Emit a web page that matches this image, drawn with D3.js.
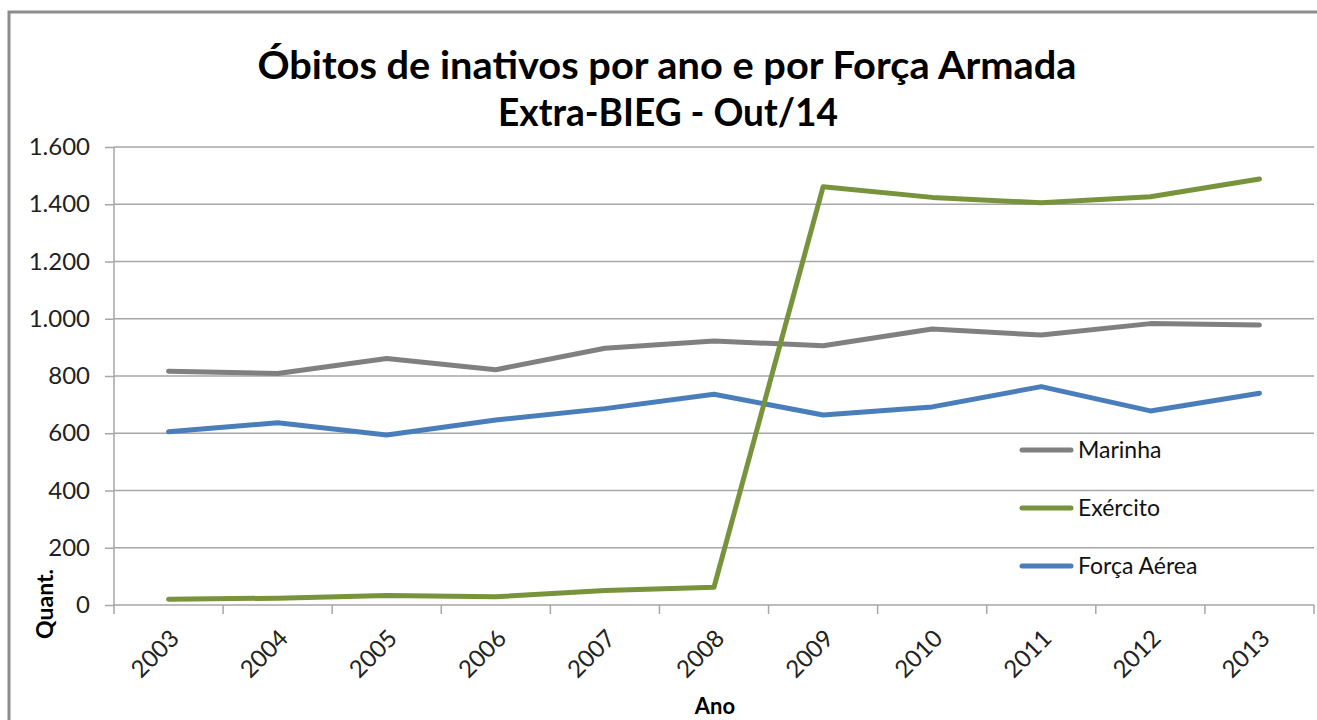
<!DOCTYPE html>
<html>
<head>
<meta charset="utf-8">
<script src="https://cdn.jsdelivr.net/npm/d3@7"></script>
<style>
  html, body { margin: 0; padding: 0; background: #fff; }
  svg { display: block; font-family: Lato, "Open Sans", sans-serif; }
</style>
</head>
<body>
<svg id="chart" width="1317" height="720"></svg>
<script>
const years = ["2003","2004","2005","2006","2007","2008","2009","2010","2011","2012","2013"];
const marinha = [817, 809, 861, 822, 897, 922, 906, 964, 943, 983, 978];
const exercito = [20, 24, 33, 29, 51, 62, 1461, 1424, 1405, 1426, 1488];
const forcaAerea = [605, 637, 594, 646, 686, 736, 664, 692, 763, 678, 740];
const seriesNames = ["Marinha", "Exército", "Força Aérea"];
const seriesColors = ["#808080", "#77933C", "#4A7EBB"];
const yTicks = [0, 200, 400, 600, 800, 1000, 1200, 1400, 1600];
const titleLines = ["Óbitos de inativos por ano e por Força Armada", "Extra-BIEG - Out/14"];
const yAxisTitle = "Quant.";
const xAxisTitle = "Ano";

(function () {
const series = [marinha, exercito, forcaAerea].map((v, i) => ({ name: seriesNames[i], color: seriesColors[i], values: v }));

const svg = d3.select("#chart");
const pLeft = 114, pRight = 1314, pTop = 147, pBottom = 605;

// outer frame
svg.append("rect").attr("x", 9).attr("y", 12).attr("width", 1330).attr("height", 730)
  .attr("fill", "none").attr("stroke", "#8c8c8c").attr("stroke-width", 3);

const x = d3.scaleBand().domain(years).range([pLeft, pRight]).padding(0);
const y = d3.scaleLinear().domain([0, 1600]).range([pBottom, pTop]);

// gridlines
svg.append("g").selectAll("line").data(yTicks.filter(t => t > 0)).join("line")
  .attr("x1", pLeft).attr("x2", pRight)
  .attr("y1", d => y(d)).attr("y2", d => y(d))
  .attr("stroke", "#a6a6a6").attr("stroke-width", 1.5);

// y axis
const fmt = d => d3.format(",")(d).replace(/,/g, ".");
const yAxis = svg.append("g").attr("transform", `translate(${pLeft},0)`)
  .call(d3.axisLeft(y).tickValues(yTicks).tickSize(9).tickPadding(15).tickFormat(fmt));
yAxis.select(".domain").attr("stroke", "#a6a6a6").attr("stroke-width", 1.5).attr("d", `M0,${pTop}V${pBottom}`);
yAxis.selectAll(".tick line").attr("stroke", "#a6a6a6").attr("stroke-width", 1.5);
yAxis.selectAll(".tick text").attr("font-size", 24).attr("fill", "#222").attr("font-family", "Lato, sans-serif");

// x axis
const xAxis = svg.append("g").attr("transform", `translate(0,${pBottom})`)
  .call(d3.axisBottom(x).tickSize(0).tickFormat(""));
xAxis.select(".domain").attr("stroke", "#a6a6a6").attr("stroke-width", 1.5).attr("d", `M${pLeft},0H${pRight}`);
const bounds = years.map(d => x(d)).concat([pRight]);
svg.append("g").selectAll("line").data(bounds).join("line")
  .attr("x1", d => d).attr("x2", d => d)
  .attr("y1", pBottom).attr("y2", pBottom + 9)
  .attr("stroke", "#a6a6a6").attr("stroke-width", 1.5);
svg.append("g").selectAll("text").data(years).join("text")
  .attr("transform", d => `translate(${x(d) + x.bandwidth() / 2 + 6},${pBottom + 29}) rotate(-45)`)
  .attr("text-anchor", "end")
  .attr("dy", "0.35em")
  .attr("font-size", 24).attr("fill", "#222")
  .text(d => d);

// lines
const line = d3.line()
  .x((d, i) => x(years[i]) + x.bandwidth() / 2)
  .y(d => y(d));
const order = [series[0], series[2], series[1]];
svg.append("g").selectAll("path").data(order).join("path")
  .attr("d", d => line(d.values))
  .attr("fill", "none")
  .attr("stroke", d => d.color)
  .attr("stroke-width", 5)
  .attr("stroke-linejoin", "round")
  .attr("stroke-linecap", "round");

// legend
const legend = svg.append("g");
series.forEach((s, i) => {
  const ly = 450 + i * 58;
  legend.append("line").attr("x1", 1022).attr("x2", 1071).attr("y1", ly).attr("y2", ly)
    .attr("stroke", s.color).attr("stroke-width", 5).attr("stroke-linecap", "round");
  legend.append("text").attr("x", 1078).attr("y", ly).attr("dy", "0.35em")
    .attr("font-size", 23).attr("fill", "#111").text(s.name);
});

// title
svg.append("text").attr("x", 667).attr("y", 79).attr("text-anchor", "middle")
  .attr("font-size", 39).attr("font-weight", "bold").attr("fill", "#000")
  .attr("textLength", 819).attr("lengthAdjust", "spacingAndGlyphs")
  .text(titleLines[0]);
svg.append("text").attr("x", 668).attr("y", 126).attr("text-anchor", "middle")
  .attr("font-size", 39).attr("font-weight", "bold").attr("fill", "#000")
  .attr("textLength", 340).attr("lengthAdjust", "spacingAndGlyphs")
  .text(titleLines[1]);

// axis titles
svg.append("text").attr("transform", `translate(53,604) rotate(-90)`).attr("text-anchor", "middle")
  .attr("font-size", 23).attr("font-weight", "bold").attr("fill", "#000").text(yAxisTitle);
svg.append("text").attr("x", 715).attr("y", 714).attr("text-anchor", "middle")
  .attr("font-size", 22).attr("font-weight", "bold").attr("fill", "#000").text(xAxisTitle);
})();
</script>
</body>
</html>
